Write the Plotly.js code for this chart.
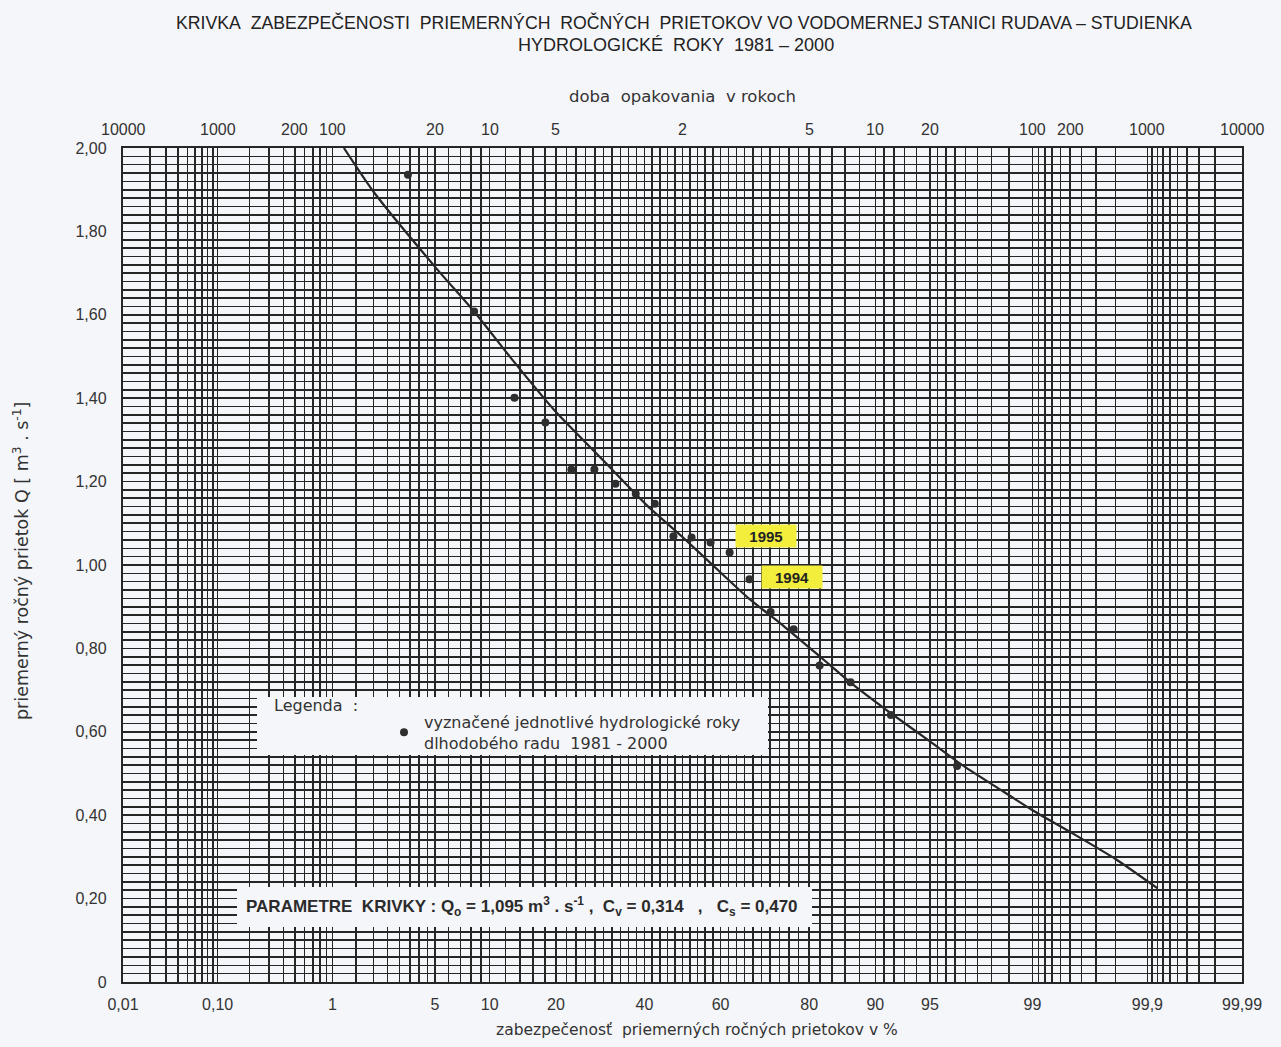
<!DOCTYPE html>
<html>
<head>
<meta charset="utf-8">
<script src="https://cdn.plot.ly/plotly-3.0.1.min.js"></script>
<style>
html,body{margin:0;padding:0;background:#f5f6fa;}
#chart{width:1281px;height:1047px;}
</style>
</head>
<body>
<div id="chart"></div>
<script>
// ---- data ----
// empirical points: exceedance probability (%) and mean annual discharge (m3/s), 1981-2000
const pointP = [3.4, 8.3, 13.2, 18.1, 23.0, 27.9, 32.8, 37.8, 42.7, 47.6, 52.4, 57.4, 62.3, 67.2, 72.1, 77.0, 81.9, 86.8, 91.7, 96.6];
const pointQ = [1.936, 1.608, 1.401, 1.342, 1.229, 1.229, 1.195, 1.171, 1.147, 1.069, 1.066, 1.054, 1.030, 0.966, 0.887, 0.846, 0.759, 0.719, 0.640, 0.518];
// fitted curve
const curveP = [1.22, 2.0, 5.0, 8.4, 13.0, 19.8, 30.0, 41.0, 50.0, 60.0, 67.0, 75.0, 82.0, 86.8, 91.5, 95.0, 96.8, 98.2, 99.0, 99.5, 99.8, 99.92];
const curveQ = [2.00, 1.895, 1.715, 1.605, 1.49, 1.37, 1.25, 1.14, 1.067, 0.982, 0.92, 0.853, 0.78, 0.718, 0.648, 0.577, 0.522, 0.465, 0.412, 0.36, 0.295, 0.225];
// labelled years
const labelYears = ['1995', '1994'];
const labelP = [62.3, 67.2];
const labelQ = [1.030, 0.966];
// bottom axis (probability %) labels
const bottomTickP = [0.01, 0.1, 1, 5, 10, 20, 40, 60, 80, 90, 95, 99, 99.9, 99.99];
const bottomTickText = ['0,01', '0,10', '1', '5', '10', '20', '40', '60', '80', '90', '95', '99', '99,9', '99,99'];
// top axis (return period, years) labels
const topTickP = [0.01, 0.1, 0.5, 1, 5, 10, 20, 50, 80, 90, 95, 99, 99.5, 99.9, 99.99];
const topTickText = ['10000', '1000', '200', '100', '20', '10', '5', '2', '5', '10', '20', '100', '200', '1000', '10000'];
// y axis labels
const yTickVals = [0, 0.2, 0.4, 0.6, 0.8, 1.0, 1.2, 1.4, 1.6, 1.8, 2.0];
const yTickText = ['0', '0,20', '0,40', '0,60', '0,80', '1,00', '1,20', '1,40', '1,60', '1,80', '2,00'];

// ---- probability-paper transform (inverse normal CDF) ----
function probit(pp) {
  const p = pp / 100;
  const a = [-3.969683028665376e+01, 2.209460984245205e+02, -2.759285104469687e+02, 1.383577518672690e+02, -3.066479806614716e+01, 2.506628277459239e+00];
  const b = [-5.447609879822406e+01, 1.615858368580409e+02, -1.556989798598866e+02, 6.680131188771972e+01, -1.328068155288572e+01];
  const c = [-7.784894002430293e-03, -3.223964580411365e-01, -2.400758277161838e+00, -2.549732539343734e+00, 4.374664141464968e+00, 2.938163982698783e+00];
  const d = [7.784695709041462e-03, 3.224671290700398e-01, 2.445134137142996e+00, 3.754408661907416e+00];
  const pl = 0.02425, ph = 1 - pl;
  let q, r;
  if (p < pl) {
    q = Math.sqrt(-2 * Math.log(p));
    return (((((c[0]*q+c[1])*q+c[2])*q+c[3])*q+c[4])*q+c[5]) / ((((d[0]*q+d[1])*q+d[2])*q+d[3])*q+1);
  }
  if (p <= ph) {
    q = p - 0.5; r = q * q;
    return (((((a[0]*r+a[1])*r+a[2])*r+a[3])*r+a[4])*r+a[5])*q / (((((b[0]*r+b[1])*r+b[2])*r+b[3])*r+b[4])*r+1);
  }
  q = Math.sqrt(-2 * Math.log(1 - p));
  return -(((((c[0]*q+c[1])*q+c[2])*q+c[3])*q+c[4])*q+c[5]) / ((((d[0]*q+d[1])*q+d[2])*q+d[3])*q+1);
}

// ---- probability-paper grid (vertical lines) ----
function seq(a, b, s) { const out = []; for (let v = a; v <= b + s / 2; v += s) out.push(Math.round(v * 1000) / 1000); return out; }
const gridP = [].concat(
  seq(0.01, 0.09, 0.01), seq(0.1, 0.9, 0.1), seq(1, 4.5, 0.5), seq(5, 9, 1),
  seq(10, 88, 2), seq(90, 94, 1), seq(95, 98.5, 0.5), seq(99, 99.8, 0.1), seq(99.9, 99.99, 0.01)
);
const uniq = Array.from(new Set(gridP.map(v => v.toFixed(3)))).map(Number).sort((x, y) => x - y);

const xr = [probit(0.01) - 1e-6, probit(99.99) + 1e-6];
const ink = '#262626';
const bg = '#f5f6fa';
const sans = 'Liberation Sans, Arial, sans-serif';
const wide = 'DejaVu Sans, Verdana, sans-serif';

const traces = [
  {
    x: curveP.map(probit), y: curveQ, type: 'scatter', mode: 'lines',
    line: {color: ink, width: 2.2, shape: 'spline', smoothing: 0.6},
    showlegend: false, hoverinfo: 'skip'
  },
  {
    x: pointP.map(probit), y: pointQ, type: 'scatter', mode: 'markers',
    marker: {color: '#2e2e2e', size: 8},
    name: 'vyznačené jednotlivé hydrologické roky<br>dlhodobého radu  1981 - 2000',
    showlegend: true
  }
];

const tickFont = {family: sans, size: 16, color: '#333'};

function ann(text, x, y, font, extra) {
  return Object.assign({text: text, xref: 'paper', yref: 'paper', x: x, y: y, showarrow: false,
    xanchor: 'center', yanchor: 'middle', font: font}, extra || {});
}

const annotations = [
  ann('KRIVKA\u00a0 ZABEZPEČENOSTI\u00a0 PRIEMERNÝCH\u00a0 ROČNÝCH\u00a0 PRIETOKOV VO VODOMERNEJ STANICI RUDAVA – STUDIENKA',
      (683.5 - 123) / 1119, (982 - 22) / 834, {family: sans, size: 17.7, color: '#222'}),
  ann('HYDROLOGICKÉ\u00a0 ROKY\u00a0 1981 – 2000', (676 - 123) / 1119, (982 - 45) / 834, {family: sans, size: 18, color: '#222'}),
  ann('doba\u00a0 opakovania\u00a0 v rokoch', (682 - 123) / 1119, (982 - 97) / 834, {family: wide, size: 16.5, color: '#333'}),
  ann('zabezpečenosť\u00a0 priemerných ročných prietokov v %', (697 - 123) / 1119, (982 - 1030) / 834, {family: wide, size: 15.5, color: '#333'}),
  ann('priemerný ročný prietok Q [ m<sup>3</sup> . s<sup>-1</sup>]', (21 - 123) / 1119, (982 - 561) / 834, {family: wide, size: 17.5, color: '#333'}, {textangle: -90}),
  ann('Legenda\u00a0 :', (272 - 123) / 1119, (982 - 705) / 834, {family: wide, size: 16, color: '#333'}, {xanchor: 'left'}),
  ann('<b>PARAMETRE\u00a0 KRIVKY : Q<sub>o</sub> = 1,095 m<sup>3</sup> . s<sup>-1</sup> ,\u00a0 C<sub>v</sub> = 0,314\u00a0\u00a0 ,\u00a0\u00a0 C<sub>s</sub> = 0,470</b>',
      (521.5 - 123) / 1119, (982 - 906) / 834, {family: sans, size: 17, color: '#2b2b2b'})
];
// return-period scale along the top edge, placed through the x axis
topTickP.forEach((p, i) => {
  annotations.push({text: topTickText[i], x: probit(p), xref: 'x', y: (982 - 130) / 834, yref: 'paper',
    showarrow: false, xanchor: 'center', yanchor: 'middle', font: tickFont});
});
labelYears.forEach((t, i) => {
  annotations.push({
    text: '<b>' + t + '</b>', x: probit(labelP[i]), y: labelQ[i], xref: 'x', yref: 'y', showarrow: false,
    xanchor: 'center', yanchor: 'middle',
    xshift: i === 0 ? 36 : 42, yshift: i === 0 ? 16 : 2, bgcolor: '#f3ee3c', width: 58, height: 20,
    font: {family: sans, size: 15, color: '#222'}
  });
});

const layout = {
  width: 1281, height: 1047,
  margin: {l: 123, r: 39, t: 148, b: 65},
  paper_bgcolor: bg, plot_bgcolor: bg,
  xaxis: {
    range: xr, tickmode: 'array', tickvals: bottomTickP.map(probit), ticktext: bottomTickText,
    showgrid: true, gridcolor: ink, gridwidth: 1.5, zeroline: false,
    minor: {tickmode: 'array', tickvals: uniq.map(probit), showgrid: true, gridcolor: ink, gridwidth: 1.5, ticks: ''},
    showline: true, mirror: true, linecolor: ink, linewidth: 2.2, ticks: '',
    tickfont: tickFont, ticklabelstandoff: 7, fixedrange: true
  },
  yaxis: {
    range: [0, 2], tickmode: 'array', tickvals: yTickVals, ticktext: yTickText,
    showgrid: true, gridcolor: ink, gridwidth: 1.6, zeroline: false,
    minor: {dtick: 0.02, showgrid: true, gridcolor: ink, gridwidth: 1.6, ticks: ''},
    showline: true, mirror: true, linecolor: ink, linewidth: 2.2, ticks: '',
    tickfont: tickFont, ticklabelstandoff: 11, fixedrange: true
  },
  shapes: [
    {type: 'rect', xref: 'paper', yref: 'paper', x0: (257 - 123) / 1119, x1: (768 - 123) / 1119, y0: (982 - 755) / 834, y1: (982 - 697) / 834,
     fillcolor: bg, line: {width: 0}, layer: 'above'},
    {type: 'rect', xref: 'paper', yref: 'paper', x0: (237 - 123) / 1119, x1: (812 - 123) / 1119, y0: (982 - 927) / 834, y1: (982 - 887) / 834,
     fillcolor: bg, line: {width: 0}, layer: 'above'}
  ],
  legend: {
    x: (384 - 123) / 1119, y: (982 - 705) / 834, xanchor: 'left', yanchor: 'top',
    bgcolor: 'rgba(0,0,0,0)', borderwidth: 0,
    font: {family: wide, size: 16, color: '#333'}
  },
  annotations: annotations,
  showlegend: true
};

Plotly.newPlot('chart', traces, layout, {displayModeBar: false, staticPlot: true});
</script>
</body>
</html>
